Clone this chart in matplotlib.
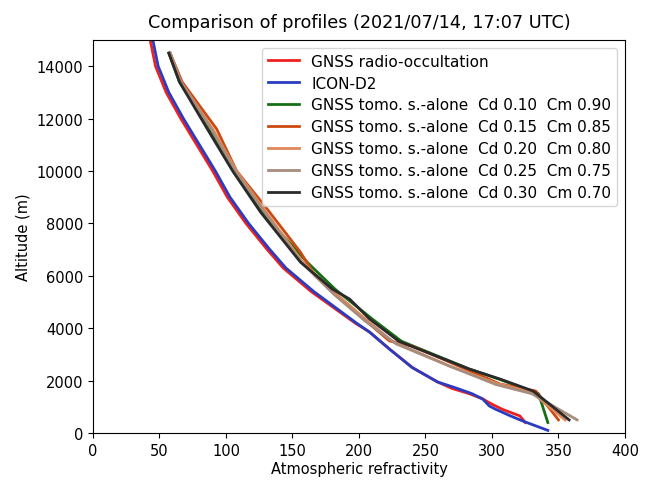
import matplotlib
matplotlib.use("Agg")
import matplotlib.pyplot as plt

# GNSS radio-occultation
ro_alt = [15000, 14000, 13000, 12000, 11000, 10000, 9000, 8000, 7000, 6300, 5400, 4200, 3850, 3200, 2500, 1950, 1700, 1500, 1300, 1100, 900, 650, 400]
ro_n = [43, 47, 55, 66, 78, 90, 101, 115, 131, 143, 164, 197, 208, 223, 240, 259, 270, 283, 293, 300, 308, 321, 325]

# ICON-D2
icon_alt = [15000, 14000, 13000, 12000, 11000, 10000, 9000, 8000, 7000, 6300, 5400, 4200, 3850, 3200, 2500, 1950, 1700, 1500, 1300, 1030, 900, 650, 460, 100]
icon_n = [45, 49, 57, 68, 80, 92, 103, 117, 133, 145, 166, 198, 208, 223, 240, 259, 274, 285, 293, 298, 303, 314, 323, 342]

# GNSS tomography stand-alone runs
t10_alt = [14500, 13400, 11600, 10000, 8430, 6520, 5490, 4350, 3500, 2440, 2060, 1500, 400]
t10_n = [57, 65, 88, 106, 127, 161, 182, 210, 232, 283, 305, 335, 342]

t15_alt = [14500, 13400, 11600, 10000, 8545, 6900, 6000, 5000, 4160, 3510, 3320, 2710, 1870, 1600, 500]
t15_n = [58, 67, 93, 108, 131, 156, 167, 189, 208, 223, 240, 268, 306, 333, 350]

t20_alt = [14500, 13400, 11600, 10000, 8500, 6500, 5300, 4300, 3500, 2556, 1900, 1550, 500]
t20_n = [58, 66, 90, 108, 129, 158, 183, 206, 225, 268, 303, 330, 355]

t25_alt = [14500, 13400, 11600, 10000, 8500, 6500, 5300, 4300, 3400, 2556, 1850, 1500, 500]
t25_n = [58, 66, 89, 107, 128, 157, 181, 204, 228, 268, 303, 330, 364]

t30_alt = [14500, 13400, 11600, 10000, 8430, 6520, 5490, 5110, 4350, 3500, 2440, 2060, 1600, 500]
t30_n = [57, 65, 86, 105, 126, 156, 180, 193, 208, 230, 283, 306, 331, 358]

labels = [
    "GNSS radio-occultation",
    "ICON-D2",
    "GNSS tomo. s.-alone  Cd 0.10  Cm 0.90",
    "GNSS tomo. s.-alone  Cd 0.15  Cm 0.85",
    "GNSS tomo. s.-alone  Cd 0.20  Cm 0.80",
    "GNSS tomo. s.-alone  Cd 0.25  Cm 0.75",
    "GNSS tomo. s.-alone  Cd 0.30  Cm 0.70",
]
colors = ["#f02020", "#2a3cc0", "#157015", "#cc4a12", "#e0885a", "#a88c7c", "#2a2a2a"]
series = [(ro_n, ro_alt), (icon_n, icon_alt), (t10_n, t10_alt), (t15_n, t15_alt),
          (t20_n, t20_alt), (t25_n, t25_alt), (t30_n, t30_alt)]

fig = plt.figure(figsize=(6.49, 4.81), dpi=100)
ax = fig.add_axes([0.1433, 0.0977, 0.8197, 0.8171])
for (x, y), lab, c in zip(series, labels, colors):
    ax.plot(x, y, color=c, lw=2, label=lab)

ax.set_xlim(0, 400)
ax.set_ylim(0, 15000)
ax.set_xticks([0, 50, 100, 150, 200, 250, 300, 350, 400])
ax.set_yticks(range(0, 15000, 2000))
ax.set_xlabel("Atmospheric refractivity", fontsize=10.5, labelpad=2)
ax.set_ylabel("Altitude (m)", fontsize=10.5)
ax.set_title("Comparison of profiles (2021/07/14, 17:07 UTC)", fontsize=12.7, pad=9)
ax.tick_params(labelsize=10.5)
ax.legend(loc="upper right", fontsize=11, labelspacing=0.45)
fig.savefig("out.png", dpi=100)
